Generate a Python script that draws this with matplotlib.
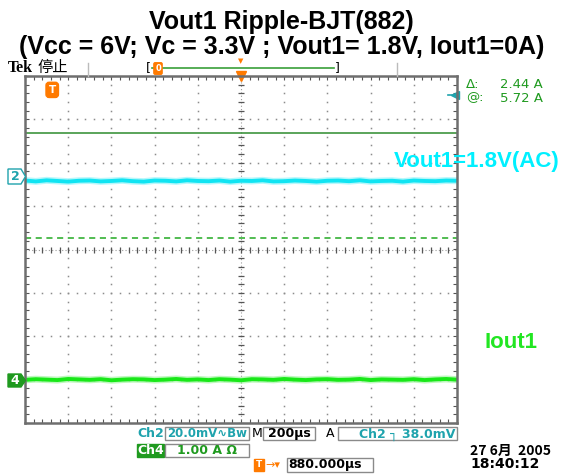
import numpy as np
import matplotlib
matplotlib.use('Agg')
import matplotlib.pyplot as plt
import matplotlib.transforms as mtransforms
from matplotlib.patches import Polygon, Rectangle

W, H = 562, 474

# values, in divisions (centre of screen = 0)
ch2_level = 1.58
ch4_level = -3.0
ch2_ripple = [0.01, -0.01, 0.015, 0.00, -0.015, 0.005, 0.01, -0.01, 0.00, 0.015, -0.005,
              -0.015, 0.01, 0.005, -0.01, 0.015, 0.00, -0.005, 0.01, -0.015, 0.005, 0.00,
              0.015, -0.01, -0.005, 0.01, 0.00, -0.015, 0.005, 0.01, -0.005, 0.015, -0.01,
              0.00, 0.005, -0.015, 0.01, 0.00, -0.005, 0.01, 0.005]
ch4_ripple = [-0.005, 0.01, 0.00, -0.01, 0.015, 0.005, -0.005, 0.01, -0.015, 0.00, 0.01,
              0.005, -0.01, 0.00, 0.015, -0.005, 0.005, -0.01, 0.01, 0.00, -0.015, 0.01,
              0.005, -0.005, 0.015, 0.00, -0.01, 0.005, 0.01, -0.005, 0.00, 0.015, -0.01,
              0.005, 0.00, -0.005, 0.01, -0.01, 0.005, 0.015, 0.00]
cursor_solid = 2.68
cursor_dashed = 0.26
ref_arrow = 3.57
trig_marker = (0.63, 3.68)

title_lines = ['Vout1 Ripple-BJT(882)',
               '(Vcc = 6V; Vc = 3.3V ; Vout1= 1.8V, Iout1=0A)']
ch2_label = 'Vout1=1.8V(AC)'
ch4_label = 'Iout1'
cursor_names = ['Δ:', '@:']
cursor_values = ['2.44 A', '5.72 A']
ch2_scale = '20.0mV∿Bw'
ch4_scale = '1.00 A Ω'
time_scale = '200µs'
trig_text = 'Ch2 ┐ 38.0mV'
trig_pos = '880.000µs'
date_lines = ['27 6月  2005', '18:40:12']

TEAL = '#1fa3ad'
GREEN = '#1f9a1f'
ORANGE = '#ff7a00'
CJK = ['Noto Sans CJK SC', 'DejaVu Sans']

fig = plt.figure(figsize=(W / 100, H / 100), dpi=100)
fig.patch.set_facecolor('white')
# pixel coordinates, origin top-left
pix = mtransforms.Affine2D().scale(1 / W, -1 / H).translate(0, 1) + fig.transFigure

# --- scope screen ---
left, top, right, bottom = 25, 76, 457, 423
ax = fig.add_axes([left / W, (H - bottom) / H, (right - left) / W, (bottom - top) / H])
ax.set_xlim(0, 10)
ax.set_ylim(-4, 4)
sub_x = np.arange(0, 10.001, 0.2)
sub_y = np.arange(-4, 4.001, 0.2)
ax.set_xticks(sub_x)
ax.set_yticks(sub_y)
ax.set_xticklabels([])
ax.set_yticklabels([])
ax.tick_params(direction='in', length=3, width=0.8, color='#555555',
               top=True, right=True)
for s in ax.spines.values():
    s.set_color('#6e6e6e')
    s.set_linewidth(1.8)

for gx in range(1, 10):
    if gx == 5:
        continue
    ax.plot(np.full_like(sub_y, gx), sub_y, ls='none', marker='s', ms=1.1,
            mew=0, color='#8c8c8c')
for gy in range(-3, 4):
    if gy == 0:
        continue
    ax.plot(sub_x, np.full_like(sub_x, gy), ls='none', marker='s', ms=1.1,
            mew=0, color='#8c8c8c')
# centre cross
ax.plot([5, 5], [-4, 4], ls=(0, (1, 2)), lw=0.8, color='#9a9a9a')
ax.plot([0, 10], [0, 0], ls=(0, (1, 2)), lw=0.8, color='#9a9a9a')
ax.plot(np.full_like(sub_y, 5), sub_y, ls='none', marker='_', ms=5, mew=0.9, color='#555555')
ax.plot(sub_x, np.zeros_like(sub_x), ls='none', marker='|', ms=5, mew=0.9, color='#555555')

# cursors
ax.axhline(cursor_solid, color='#2e8b2e', lw=1.1)
ax.axhline(cursor_dashed, color='#22aa22', lw=1.1, ls=(0, (4, 3)))

# traces
tx = np.linspace(0, 10, len(ch2_ripple))
ax.plot(tx, ch2_level + np.array(ch2_ripple), color='#60eef8', lw=5.0, alpha=0.45,
        solid_capstyle='butt')
ax.plot(tx, ch2_level + np.array(ch2_ripple), color='#10e4f2', lw=2.8,
        solid_capstyle='butt')
tx = np.linspace(0, 10, len(ch4_ripple))
ax.plot(tx, ch4_level + np.array(ch4_ripple), color='#70f070', lw=5.0, alpha=0.45,
        solid_capstyle='butt')
ax.plot(tx, ch4_level + np.array(ch4_ripple), color='#18e818', lw=2.8,
        solid_capstyle='butt')

# trigger T marker and reference arrow
ax.text(trig_marker[0], trig_marker[1], 'T', color='white', fontsize=7.5, fontweight='bold',
        ha='center', va='center',
        bbox=dict(boxstyle='round,pad=0.25,rounding_size=0.3', fc=ORANGE, ec=ORANGE))
ax.plot([9.95], [ref_arrow], marker='<', ms=6, color=TEAL, clip_on=False)
ax.plot([9.8, 10.0], [ref_arrow, ref_arrow], color=TEAL, lw=1.2)
ax.plot([5], [4.0], marker='v', ms=7, color=ORANGE, clip_on=False)

# --- title ---
fig.text(281, 29.5, title_lines[0], transform=pix, ha='center', va='baseline',
         fontsize=18, fontweight='bold', family='Liberation Sans')
fig.text(282, 54, title_lines[1], transform=pix, ha='center', va='baseline',
         fontsize=18, fontweight='bold', family='Liberation Sans')

# --- top status bar ---
fig.text(8, 72, 'Tek', transform=pix, va='baseline', fontsize=11.5, fontweight='bold',
         family='Liberation Serif')
fig.text(38, 72, '停止', transform=pix, va='baseline', fontsize=11, family=CJK)
for xv in (88, 397):
    fig.add_artist(plt.Line2D([xv, xv], [63, 76], transform=pix, color='#bbbbbb', lw=1))
fig.add_artist(plt.Line2D([152, 334], [68, 68], transform=pix, color='#3aa03a', lw=1.2))
fig.text(148, 68, '[', transform=pix, ha='center', va='center', fontsize=9)
fig.text(337, 68, ']', transform=pix, ha='center', va='center', fontsize=9)
fig.text(158, 68.5, '0', transform=pix, ha='center', va='center', fontsize=6,
         color='white', fontweight='bold',
         bbox=dict(boxstyle='round,pad=0.15', fc=ORANGE, ec=ORANGE))
fig.text(241, 61, '▼', transform=pix, ha='center', va='center', fontsize=5, color=ORANGE)

# cursor readout
for i, (nm, val) in enumerate(zip(cursor_names, cursor_values)):
    y = 84 + 14 * i
    fig.text(466, y, nm, transform=pix, va='center', fontsize=9.5, color=GREEN)
    fig.text(500, y, val, transform=pix, va='center', fontsize=9.5, color=GREEN)

# channel annotations
fig.text(560, 162, ch2_label, transform=pix, ha='right', va='center', fontsize=16,
         fontweight='bold', color='#00f0ff', family='Liberation Sans')
fig.text(484, 343, ch4_label, transform=pix, ha='left', va='center', fontsize=16,
         fontweight='bold', color='#22e622', family='Liberation Sans')

# channel ground markers
fig.add_artist(Polygon([(8, 169), (21, 169), (25.5, 176.5), (21, 184), (8, 184)],
                       closed=True, transform=pix, fc='white', ec=TEAL, lw=1))
fig.text(15, 177, '2', transform=pix, ha='center', va='center', fontsize=9,
         fontweight='bold', color=TEAL)
fig.add_artist(Polygon([(8, 374), (21, 374), (25.5, 380.5), (21, 387), (8, 387)],
                       closed=True, transform=pix, fc=GREEN, ec=GREEN, lw=1))
fig.text(15, 381, '4', transform=pix, ha='center', va='center', fontsize=9,
         fontweight='bold', color='white')


# --- bottom readouts ---
def box(x0, y0, x1, y1, fc='white', ec='#8a8a8a'):
    fig.add_artist(Rectangle((x0, y0), x1 - x0, y1 - y0, transform=pix,
                             fc=fc, ec=ec, lw=1))


box(165, 427, 249, 440)
box(263, 427, 315, 440)
box(338, 427, 457, 440)
box(137, 444, 164, 457, fc=GREEN, ec=GREEN)
box(165, 444, 249, 457)
box(287, 458, 373, 472)

fs = 9
fw = 'bold'
fig.text(151, 434, 'Ch2', transform=pix, ha='center', va='center', fontsize=fs,
         color=TEAL, fontweight=fw)
fig.text(207, 434, ch2_scale, transform=pix, ha='center', va='center', fontsize=8.5,
         color=TEAL, fontweight=fw)
fig.text(257, 434, 'M', transform=pix, ha='center', va='center', fontsize=fs)
fig.text(289, 434, time_scale, transform=pix, ha='center', va='center', fontsize=fs,
         fontweight=fw)
fig.text(330, 434, 'A', transform=pix, ha='center', va='center', fontsize=fs)
fig.text(455, 434, trig_text, transform=pix, ha='right', va='center', fontsize=fs,
         color=TEAL, fontweight=fw)
fig.text(150.5, 450.5, 'Ch4', transform=pix, ha='center', va='center', fontsize=fs,
         color='white', fontweight=fw)
fig.text(207, 450.5, ch4_scale, transform=pix, ha='center', va='center', fontsize=fs,
         color=GREEN, fontweight=fw)
fig.text(259, 465, 'T', transform=pix, ha='center', va='center', fontsize=6.5,
         color='white', fontweight='bold',
         bbox=dict(boxstyle='square,pad=0.2', fc=ORANGE, ec=ORANGE))
fig.text(273, 465, '→▾', transform=pix, ha='center', va='center', fontsize=8,
         color=ORANGE)
fig.text(325, 465, trig_pos, transform=pix, ha='center', va='center', fontsize=fs,
         fontweight=fw)
fig.text(470, 451, date_lines[0], transform=pix, ha='left', va='center', fontsize=10,
         family=CJK, fontweight=fw)
fig.text(470, 464, date_lines[1], transform=pix, ha='left', va='center', fontsize=10,
         fontweight=fw)

fig.savefig('out.png', dpi=100)
